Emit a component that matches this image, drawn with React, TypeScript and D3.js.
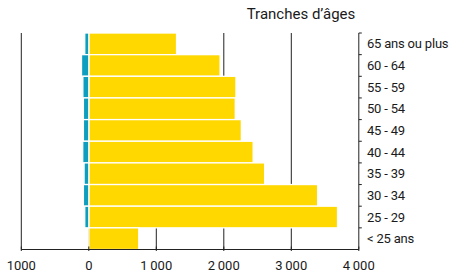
import React, { useRef, useEffect } from 'react'
import * as d3 from 'd3'

const ageGroups = ['65 ans ou plus', '60 - 64', '55 - 59', '50 - 54', '45 - 49', '40 - 44', '35 - 39', '30 - 34', '25 - 29', '< 25 ans']
const yellowValues = [1300, 1945, 2180, 2170, 2260, 2435, 2605, 3390, 3685, 740]
const blueValues = [60, 108, 88, 80, 80, 90, 70, 80, 60, 0]
const xTicks = [-1000, 0, 1000, 2000, 3000, 4000]

export default function App() {
  const svgRef = useRef<SVGSVGElement>(null)
  const width = 457
  const height = 280

  useEffect(() => {
    if (!svgRef.current) return
    const svg = d3.select(svgRef.current)
    svg.selectAll('*').remove()

    const font = 'Roboto, sans-serif'
    const x = d3.scaleLinear().domain([-1000, 4000]).range([21.3, 358.8])
    const y = d3.scaleBand().domain(ageGroups).range([33, 249.5]).paddingInner(0)

    const top = 33
    const bottom = 249.5

    // gridlines
    svg.append('g')
      .selectAll('line')
      .data(xTicks.slice(0, -1))
      .join('line')
      .attr('x1', d => x(d))
      .attr('x2', d => x(d))
      .attr('y1', top)
      .attr('y2', bottom)
      .attr('stroke', '#222')
      .attr('stroke-width', 1)

    // yellow bars
    svg.append('g')
      .selectAll('rect')
      .data(ageGroups)
      .join('rect')
      .attr('x', x(0))
      .attr('y', d => y(d)!)
      .attr('width', (d, i) => x(yellowValues[i]) - x(0))
      .attr('height', y.bandwidth())
      .attr('fill', '#FFD800')
      .attr('stroke', '#fff')
      .attr('stroke-width', 1.3)

    // blue bars
    svg.append('g')
      .selectAll('rect')
      .data(ageGroups.filter((d, i) => blueValues[i] > 0))
      .join('rect')
      .attr('x', d => x(-blueValues[ageGroups.indexOf(d)]))
      .attr('y', d => y(d)!)
      .attr('width', d => x(0) - x(-blueValues[ageGroups.indexOf(d)]))
      .attr('height', y.bandwidth())
      .attr('fill', '#0E9EC0')
      .attr('stroke', '#fff')
      .attr('stroke-width', 1.3)

    // bottom axis
    const fmt = (d: number) => Math.abs(d) >= 1000 && d > 0
      ? d3.format(',')(d).replace(',', '\u2009')
      : String(Math.abs(d))
    const bx = svg.append('g').attr('transform', `translate(0,${bottom})`)
    bx.append('line')
      .attr('x1', x(-1000)).attr('x2', x(4000))
      .attr('stroke', '#222').attr('stroke-width', 1)
    bx.selectAll('line.tick')
      .data(xTicks)
      .join('line')
      .attr('class', 'tick')
      .attr('x1', d => x(d)).attr('x2', d => x(d))
      .attr('y1', -3).attr('y2', 1.5)
      .attr('stroke', '#222')
    bx.selectAll('text')
      .data(xTicks)
      .join('text')
      .attr('x', d => x(d))
      .attr('y', 20)
      .attr('text-anchor', 'middle')
      .attr('font-family', font)
      .attr('font-size', 13)
      .attr('fill', '#1a1a1a')
      .text(d => fmt(d))

    // right axis
    const ax = x(4000)
    const ry = svg.append('g')
    ry.append('line')
      .attr('x1', ax).attr('x2', ax)
      .attr('y1', top).attr('y2', bottom)
      .attr('stroke', '#222')
    ry.selectAll('line.tick')
      .data(ageGroups)
      .join('line')
      .attr('class', 'tick')
      .attr('x1', ax).attr('x2', ax + 3)
      .attr('y1', d => y(d)!).attr('y2', d => y(d)!)
      .attr('stroke', '#222')
    ry.selectAll('text')
      .data(ageGroups)
      .join('text')
      .attr('x', 367)
      .attr('y', d => y(d)! + y.bandwidth() / 2)
      .attr('dy', '0.35em')
      .attr('font-family', font)
      .attr('font-size', 13)
      .attr('letter-spacing', -0.2)
      .attr('fill', '#1a1a1a')
      .text(d => d)

    // title
    svg.append('text')
      .attr('x', 301)
      .attr('y', 19)
      .attr('text-anchor', 'middle')
      .attr('font-family', font)
      .attr('font-size', 15)
      .attr('fill', '#1a1a1a')
      .text('Tranches d’âges')
  }, [])

  return (
    <svg
      ref={svgRef}
      width={width}
      height={height}
      style={{ position: 'absolute', left: 0, top: 0, background: '#fff' }}
    />
  )
}
